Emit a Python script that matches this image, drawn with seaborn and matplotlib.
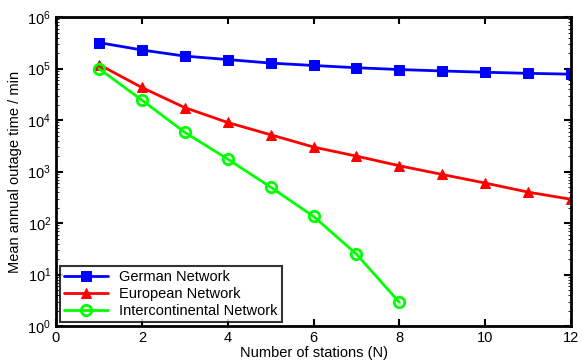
import numpy as np
import pandas as pd
import seaborn as sns
import matplotlib.pyplot as plt

stations = list(range(1, 13))
german = [3.2e5, 2.3e5, 1.75e5, 1.5e5, 1.28e5, 1.15e5, 1.04e5, 9.6e4, 9.0e4, 8.5e4, 8.1e4, 7.8e4]
european = [1.2e5, 4.3e4, 1.75e4, 9.0e3, 5.2e3, 3.0e3, 2.0e3, 1.3e3, 880, 600, 400, 290]
intercont_n = list(range(1, 9))
intercont = [1.0e5, 2.45e4, 5.8e3, 1.75e3, 5.0e2, 1.35e2, 25, 2.9]

series_names = ["German Network", "European Network", "Intercontinental Network"]

df = pd.concat([
    pd.DataFrame({"N": stations, "time": german, "net": series_names[0]}),
    pd.DataFrame({"N": stations, "time": european, "net": series_names[1]}),
    pd.DataFrame({"N": intercont_n, "time": intercont, "net": series_names[2]}),
])

sns.set_style("ticks", {"text.color": "black", "axes.labelcolor": "black",
                        "xtick.color": "black", "ytick.color": "black",
                        "axes.edgecolor": "black"})
plt.rcParams['font.family'] = ['Liberation Sans', 'DejaVu Sans']
plt.rcParams['font.size'] = 10.5

fig = plt.figure(figsize=(5.82, 3.64), dpi=100)
ax = fig.add_axes([0.0962, 0.104, 0.885, 0.849])

palette = {series_names[0]: (0, 0, 1), series_names[1]: (1, 0, 0), series_names[2]: (0, 1, 0)}
markers = {series_names[0]: "s", series_names[1]: "^", series_names[2]: "o"}

sns.lineplot(data=df, x="N", y="time", hue="net", style="net", palette=palette,
             markers=markers, dashes=False, linewidth=2, markersize=7.5, ax=ax,
             hue_order=series_names, style_order=series_names)


def fix_marker(line):
    line.set_linestyle("-")
    line.set_markeredgecolor(line.get_color())
    if line.get_marker() == "o":
        line.set_markerfacecolor("none")
        line.set_markeredgewidth(2)
    else:
        line.set_markerfacecolor(line.get_color())


for line in ax.lines:
    fix_marker(line)

ax.set_yscale("log")
ax.set_xlim(0, 12)
ax.set_ylim(1, 1e6)
ax.set_xticks([0, 2, 4, 6, 8, 10, 12])
ax.set_yticks([10**k for k in range(7)])
ax.set_xlabel("Number of stations (N)", labelpad=1)
ax.set_ylabel("Mean annual outage time / min")
ax.tick_params(direction="in", top=True, right=True, width=1.5, length=5)
ax.tick_params(which="minor", direction="in", right=True, left=True, length=2.5)
for sp in ax.spines.values():
    sp.set_linewidth(2)

leg = ax.legend(loc="lower left", frameon=True, fancybox=False, borderpad=0.3,
                labelspacing=0.2, handlelength=3, borderaxespad=0.25)
leg.get_frame().set_edgecolor("black")
leg.get_frame().set_linewidth(1.5)
for h in leg.legend_handles:
    fix_marker(h)

fig.savefig("out.png", dpi=100)
